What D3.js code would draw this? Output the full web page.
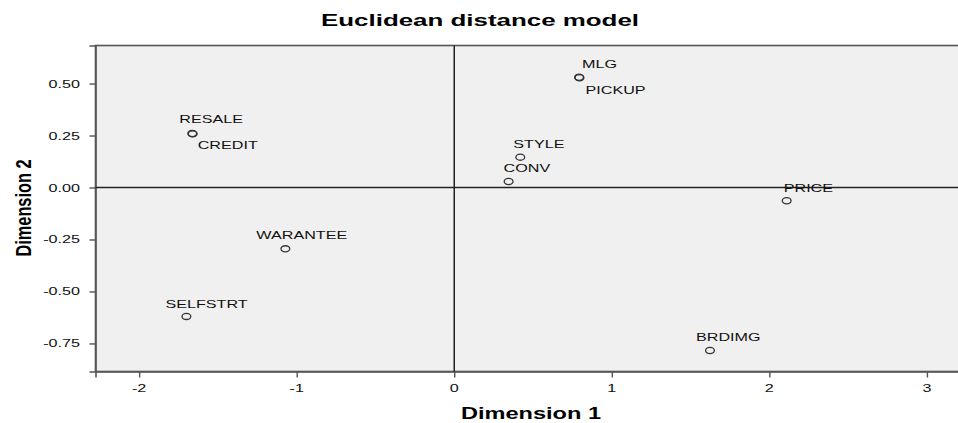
<!DOCTYPE html>
<html><head><meta charset="utf-8">
<script src="https://cdn.jsdelivr.net/npm/d3@7"></script>
<style>
html,body{margin:0;padding:0;background:#fff;}
svg text{font-family:"Liberation Sans",Arial,sans-serif;}
</style></head>
<body><svg id="chart" width="958" height="423"></svg>
<script>
// ---- data ----
const names = ["RESALE","CREDIT","MLG","PICKUP","STYLE","CONV","PRICE","WARANTEE","SELFSTRT","BRDIMG"];
const dim1  = [-1.663,-1.660, 0.792, 0.795, 0.419, 0.345, 2.110,-1.072,-1.700, 1.623];
const dim2  = [ 0.260, 0.258, 0.530, 0.528, 0.146, 0.029,-0.064,-0.295,-0.620,-0.784];
const xTicks = [-2,-1,0,1,2,3];
const yTicks = [0.50,0.25,0.00,-0.25,-0.50,-0.75];
// label placement (screen px offsets from point)
const labelDx = [-13, 5, 3, 6, -7, -5, -3, -29, -21, -14];
const labelDy = [-10, 15, -9, 16, -9, -9, -9, -10, -8, -10];

const SX = 1.47; // horizontal stretch of text in the reference
const svg = d3.select("#chart");
const L = 95.5, R = 960, T = 45.5, B = 371.5;
const x = d3.scaleLinear().domain([-2.277, 3.21]).range([L, R]);
const y = d3.scaleLinear().domain([-0.885, 0.683]).range([B, T]);
const hy = s => s.replace("\u2212", "-");

function stext(g, tx, ty, str, size, anchor, weight) {
  return g.append("text")
    .attr("transform", `translate(${tx},${ty}) scale(${SX},1)`)
    .attr("text-anchor", anchor).attr("font-size", size).attr("font-weight", weight || "normal")
    .attr("fill", "#111").text(str);
}

// plot background
svg.append("rect").attr("x", L).attr("y", T).attr("width", R - L).attr("height", B - T)
  .attr("fill", "#f0f0f0").attr("stroke", "#555").attr("stroke-width", 1.6);

// axes
const xAxis = svg.append("g").attr("transform", `translate(0,${B})`)
  .call(d3.axisBottom(x).tickValues(xTicks).tickSize(6).tickFormat(""));
const yAxis = svg.append("g").attr("transform", `translate(${L},0)`)
  .call(d3.axisLeft(y).tickValues(yTicks).tickSize(6).tickFormat(""));
[xAxis, yAxis].forEach(a => {
  a.select(".domain").attr("stroke", "#555").attr("stroke-width", 1.6);
  a.selectAll(".tick line").attr("stroke", "#555").attr("stroke-width", 1.4);
});
xTicks.forEach(t => stext(svg, x(t), 392, hy(d3.format("d")(t)), 11, "middle"));
yTicks.forEach(t => stext(svg, 80, y(t) + 4, hy(d3.format(".2f")(t)), 11, "end"));

// reference lines
svg.append("line").attr("x1", x(0)).attr("x2", x(0)).attr("y1", T).attr("y2", B)
  .attr("stroke", "#222").attr("stroke-width", 1.5);
svg.append("line").attr("x1", L).attr("x2", R).attr("y1", y(0)).attr("y2", y(0))
  .attr("stroke", "#222").attr("stroke-width", 1.3);

// points
svg.append("g").selectAll("ellipse").data(names).join("ellipse")
  .attr("cx", (d, i) => x(dim1[i])).attr("cy", (d, i) => y(dim2[i]))
  .attr("rx", 4.4).attr("ry", 3.1)
  .attr("fill", "none").attr("stroke", "#333").attr("stroke-width", 1.3);

// labels
const lg = svg.append("g");
names.forEach((n, i) => stext(lg, x(dim1[i]) + labelDx[i], y(dim2[i]) + labelDy[i], n, 11, "start"));

// titles
svg.append("text").attr("x", 480).attr("y", 26).attr("text-anchor", "middle")
  .attr("font-size", 17).attr("font-weight", "bold").attr("fill", "#000")
  .attr("textLength", 318).attr("lengthAdjust", "spacingAndGlyphs").text("Euclidean distance model");
svg.append("text").attr("x", 531).attr("y", 419).attr("text-anchor", "middle")
  .attr("font-size", 16).attr("font-weight", "bold").attr("fill", "#000")
  .attr("textLength", 140).attr("lengthAdjust", "spacingAndGlyphs").text("Dimension 1");
svg.append("text").attr("transform", "translate(31,208) rotate(-90) scale(1,1.45)")
  .attr("text-anchor", "middle").attr("font-size", 15).attr("font-weight", "bold").attr("fill", "#000")
  .attr("textLength", 97).attr("lengthAdjust", "spacingAndGlyphs").text("Dimension 2");
</script></body></html>
